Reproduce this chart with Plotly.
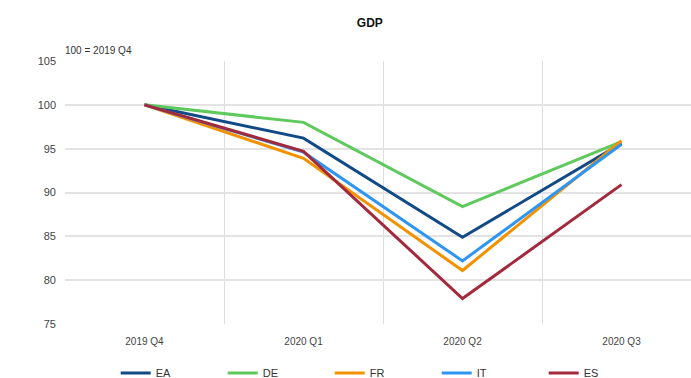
import plotly.graph_objects as go

quarters = ["2019 Q4", "2020 Q1", "2020 Q2", "2020 Q3"]
ea = [100, 96.2, 84.9, 95.6]
de = [100, 98.0, 88.4, 95.8]
fr = [100, 93.9, 81.1, 95.9]
it = [100, 94.6, 82.2, 95.5]
es = [100, 94.7, 77.9, 90.9]

series = [("EA", ea, "#114a87"), ("DE", de, "#5fc95d"), ("FR", fr, "#f39200"),
          ("IT", it, "#2e96f2"), ("ES", es, "#a3293d")]

fig = go.Figure()
for name, vals, col in series:
    fig.add_trace(go.Scatter(x=quarters, y=vals, name=name, mode="lines",
                             line=dict(color=col, width=3)))

fig.add_shape(type="line", xref="paper", x0=0, x1=1, yref="y", y0=100, y1=100,
              line=dict(color="#666666", width=1.5), layer="below")

fig.update_layout(
    width=691, height=378,
    margin=dict(l=65, r=0, t=61, b=54, autoexpand=False),
    paper_bgcolor="white", plot_bgcolor="white",
    font=dict(family="Liberation Sans, Arial, sans-serif", size=11, color="#444"),
    title=dict(text="<b>GDP</b>", xref="paper", x=0.487, xanchor="center", y=0.94, yanchor="middle",
               font=dict(size=12, color="#111")),
    showlegend=True,
    legend=dict(orientation="h", x=0.081, xanchor="left", yref="paper", y=-0.131, yanchor="top",
                entrywidth=62, entrywidthmode="pixels", font=dict(size=11, color="#333"),
                tracegroupgap=0),
    xaxis=dict(type="category", range=[-0.5, 3.437], tickson="boundaries",
               showgrid=True, gridcolor="#dddddd", gridwidth=1, ticks="",
               ticklabelstandoff=10,
               showline=False, zeroline=False, tickfont=dict(size=10, color="#444")),
    yaxis=dict(range=[75, 105], dtick=5, tick0=75, showgrid=True, gridcolor="#e3e3e3",
               gridwidth=1.5, zeroline=False, showline=False, ticks="",
               ticklabelstandoff=8,
               tickfont=dict(size=11, color="#444")),
    annotations=[dict(text="100 = 2019 Q4", xref="paper", yref="paper", x=-0.003, y=1.013,
                      xanchor="left", yanchor="bottom", showarrow=False,
                      font=dict(size=10, color="#333"))],
)

fig.write_html("out.html")
